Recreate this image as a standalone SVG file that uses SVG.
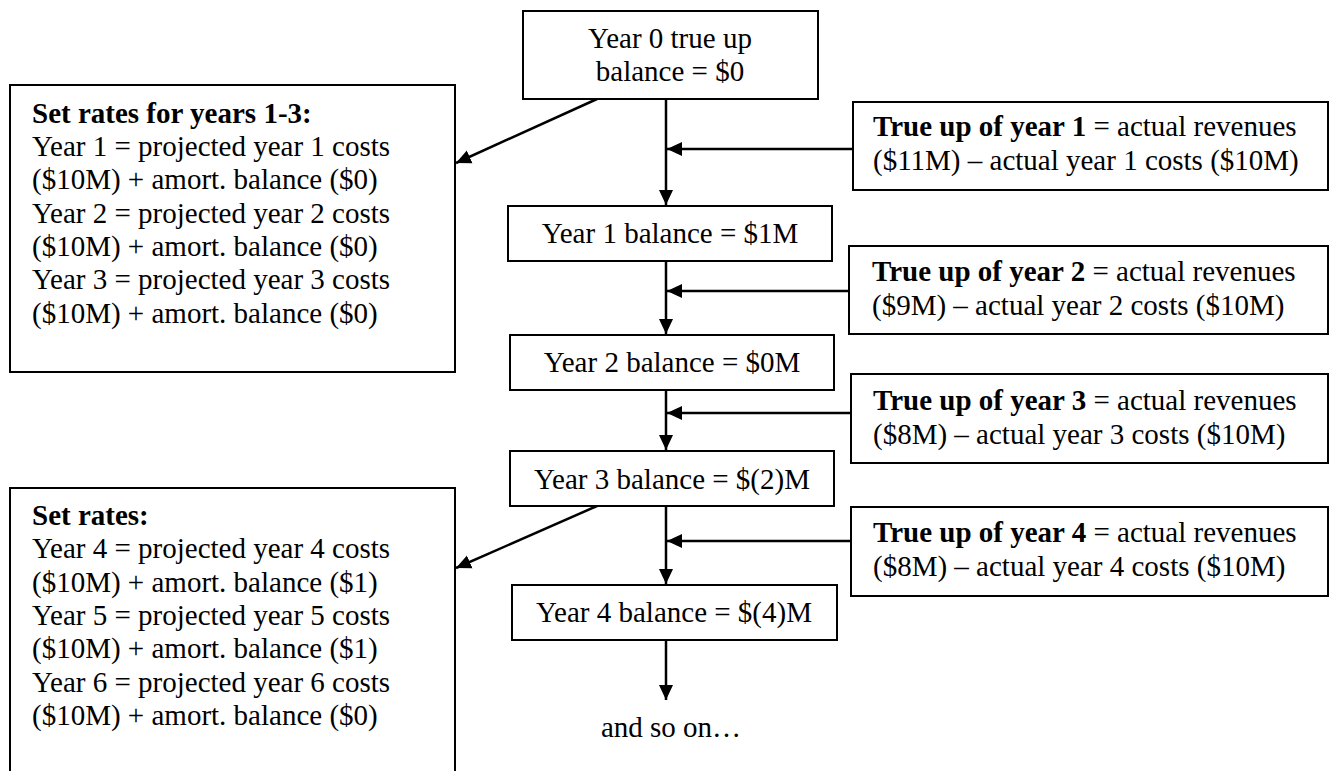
<svg xmlns="http://www.w3.org/2000/svg" width="1332" height="771" viewBox="0 0 1332 771">
<style>
text { font-family: "Liberation Serif", "Times New Roman", serif; font-size: 29px; fill: #000; }
.b { font-weight: bold; }
.c { text-anchor: middle; }
.box { fill: #fff; stroke: #000; stroke-width: 2; }
.con { stroke: #000; stroke-width: 2.5; fill: none; }
</style>
<defs>
<marker id="ah" markerUnits="userSpaceOnUse" markerWidth="16" markerHeight="16" viewBox="0 0 16 16" refX="15" refY="8" orient="auto">
<path d="M0,1 L15,8 L0,15 Z" fill="#000"/>
</marker>
</defs>
<rect width="1332" height="771" fill="#fff"/>

<g id="connectors">
<line class="con" x1="666" y1="99" x2="666" y2="205" marker-end="url(#ah)"/>
<line class="con" x1="666" y1="261" x2="666" y2="334" marker-end="url(#ah)"/>
<line class="con" x1="666" y1="390" x2="666" y2="450" marker-end="url(#ah)"/>
<line class="con" x1="666" y1="506" x2="666" y2="584" marker-end="url(#ah)"/>
<line class="con" x1="666" y1="640" x2="666" y2="700" marker-end="url(#ah)"/>
<line class="con" x1="853" y1="149" x2="667" y2="149" marker-end="url(#ah)"/>
<line class="con" x1="849" y1="291" x2="667" y2="291" marker-end="url(#ah)"/>
<line class="con" x1="851" y1="413" x2="667" y2="413" marker-end="url(#ah)"/>
<line class="con" x1="851" y1="541" x2="667" y2="541" marker-end="url(#ah)"/>
<line class="con" x1="597" y1="99" x2="456" y2="163" marker-end="url(#ah)"/>
<line class="con" x1="597" y1="506" x2="456" y2="568" marker-end="url(#ah)"/>
</g>

<g id="year0">
<rect class="box" x="523" y="11" width="295" height="88"/>
<text class="c" x="670" y="48">Year 0 true up</text>
<text class="c" x="670" y="81">balance = $0</text>
</g>

<g id="rates1">
<rect class="box" x="10" y="85" width="445" height="287"/>
<text class="b" x="32" y="122.5">Set rates for years 1-3:</text>
<text x="32" y="156">Year 1 = projected year 1 costs</text>
<text x="32" y="189.3">($10M) + amort. balance ($0)</text>
<text x="32" y="222.6">Year 2 = projected year 2 costs</text>
<text x="32" y="256">($10M) + amort. balance ($0)</text>
<text x="32" y="289.3">Year 3 = projected year 3 costs</text>
<text x="32" y="322.6">($10M) + amort. balance ($0)</text>
</g>

<g id="trueup1">
<rect class="box" x="853" y="102" width="475" height="88"/>
<text x="873" y="136"><tspan class="b">True up of year 1</tspan> = actual revenues</text>
<text x="873" y="169.5">($11M) – actual year 1 costs ($10M)</text>
</g>

<g id="year1">
<rect class="box" x="508" y="206" width="324" height="55"/>
<text class="c" x="670" y="243">Year 1 balance = $1M</text>
</g>

<g id="trueup2">
<rect class="box" x="849" y="246" width="479" height="88"/>
<text x="872" y="281"><tspan class="b">True up of year 2</tspan> = actual revenues</text>
<text x="872" y="314.5">($9M) – actual year 2 costs ($10M)</text>
</g>

<g id="year2">
<rect class="box" x="510" y="335" width="324" height="55"/>
<text class="c" x="672" y="372">Year 2 balance = $0M</text>
</g>

<g id="trueup3">
<rect class="box" x="851" y="374" width="477" height="89"/>
<text x="873" y="410"><tspan class="b">True up of year 3</tspan> = actual revenues</text>
<text x="873" y="443.5">($8M) – actual year 3 costs ($10M)</text>
</g>

<g id="year3">
<rect class="box" x="510" y="451" width="324" height="55"/>
<text class="c" x="672" y="489">Year 3 balance = $(2)M</text>
</g>

<g id="rates2">
<rect class="box" x="10" y="488" width="445" height="300"/>
<text class="b" x="32" y="525">Set rates:</text>
<text x="32" y="558.3">Year 4 = projected year 4 costs</text>
<text x="32" y="591.6">($10M) + amort. balance ($1)</text>
<text x="32" y="625">Year 5 = projected year 5 costs</text>
<text x="32" y="658.2">($10M) + amort. balance ($1)</text>
<text x="32" y="691.5">Year 6 = projected year 6 costs</text>
<text x="32" y="724.8">($10M) + amort. balance ($0)</text>
</g>

<g id="trueup4">
<rect class="box" x="851" y="507" width="477" height="89"/>
<text x="873" y="542"><tspan class="b">True up of year 4</tspan> = actual revenues</text>
<text x="873" y="575.5">($8M) – actual year 4 costs ($10M)</text>
</g>

<g id="year4">
<rect class="box" x="512" y="585" width="325" height="55"/>
<text class="c" x="674" y="622">Year 4 balance = $(4)M</text>
</g>

<g id="andsoon">
<text class="c" x="671" y="737">and so on…</text>
</g>
</svg>
